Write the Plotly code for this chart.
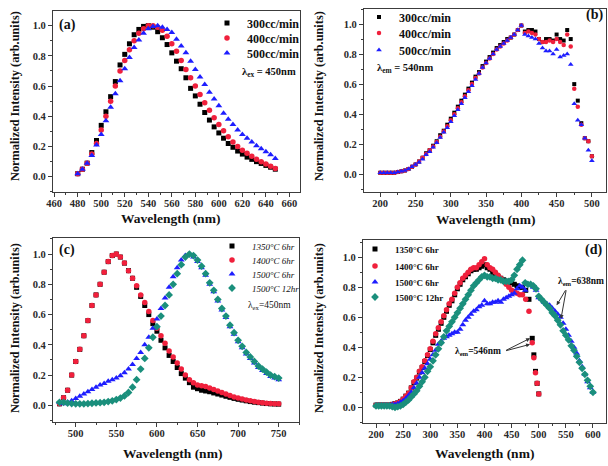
import plotly.graph_objects as go

W, H = 608, 466

# ---------------- (a) emission, flow rate ----------------
a_wl = list(range(480, 649, 4))
a_300 = [0.02, 0.05, 0.09, 0.16, 0.24,
         0.34, 0.43, 0.53, 0.63, 0.74,
         0.81, 0.88, 0.94, 0.975, 0.995,
         1.0, 0.99, 0.96, 0.92, 0.875,
         0.82, 0.765, 0.715, 0.655, 0.585,
         0.535, 0.48, 0.425, 0.375, 0.33,
         0.29, 0.255, 0.22, 0.195, 0.17,
         0.15, 0.13, 0.115, 0.1, 0.088,
         0.075, 0.063, 0.05]
a_400 = [0.02, 0.05, 0.09, 0.15, 0.22,
         0.31, 0.4, 0.5, 0.6, 0.7,
         0.77, 0.84, 0.9, 0.95, 0.98,
         1.0, 1.0, 0.99, 0.97, 0.93,
         0.88, 0.83, 0.77, 0.71, 0.655,
         0.6, 0.545, 0.49, 0.44, 0.39,
         0.345, 0.305, 0.265, 0.23, 0.2,
         0.175, 0.155, 0.135, 0.115, 0.1,
         0.085, 0.07, 0.055]
a_500 = [0.02, 0.05, 0.09, 0.14, 0.21,
         0.28, 0.37, 0.46, 0.55, 0.635,
         0.715, 0.79, 0.855, 0.905, 0.95,
         0.98, 0.995, 1.0, 0.99, 0.975,
         0.955, 0.91, 0.865, 0.82, 0.765,
         0.71, 0.66, 0.61, 0.56, 0.515,
         0.47, 0.42, 0.38, 0.345, 0.31,
         0.28, 0.255, 0.23, 0.205, 0.185,
         0.165, 0.145, 0.12]

# ---------------- (b) excitation, flow rate ----------------
b_wl = list(range(200, 501, 5))
b_300 = [0.01, 0.01, 0.01, 0.01, 0.01, 0.015, 0.02, 0.025, 0.035, 0.05,
         0.065, 0.085, 0.11, 0.14, 0.16, 0.19, 0.22, 0.26, 0.29, 0.33,
         0.37, 0.41, 0.45, 0.49, 0.53, 0.57, 0.61, 0.65, 0.68, 0.72,
         0.75, 0.78, 0.81, 0.84, 0.86, 0.88, 0.9, 0.91, 0.93, 0.96,
         0.99, 0.95, 0.96, 0.96, 0.95, 0.9, 0.88, 0.9, 0.9, 0.89,
         0.93, 0.9, 0.89, 0.96, 0.9, 0.6, 0.49, 0.34, 0.24, 0.22,
         0.12]
b_400 = [0.01, 0.01, 0.01, 0.01, 0.01, 0.015, 0.02, 0.025, 0.035, 0.05,
         0.065, 0.085, 0.11, 0.135, 0.16, 0.185, 0.215, 0.25, 0.285, 0.32,
         0.36, 0.4, 0.44, 0.48, 0.52, 0.56, 0.6, 0.64, 0.67, 0.71,
         0.74, 0.77, 0.8, 0.83, 0.85, 0.87, 0.89, 0.91, 0.93, 0.96,
         0.99, 0.94, 0.95, 0.94, 0.93, 0.9, 0.88, 0.88, 0.89, 0.88,
         0.9, 0.88, 0.86, 0.93, 0.85, 0.57, 0.45, 0.33, 0.24, 0.22,
         0.12]
b_500 = [0.01, 0.01, 0.01, 0.01, 0.01, 0.015, 0.02, 0.025, 0.035, 0.05,
         0.065, 0.08, 0.1, 0.13, 0.15, 0.18, 0.21, 0.245, 0.28, 0.31,
         0.35, 0.39, 0.43, 0.47, 0.51, 0.55, 0.59, 0.63, 0.67, 0.71,
         0.74, 0.77, 0.8, 0.83, 0.85, 0.87, 0.89, 0.91, 0.93, 0.96,
         0.99, 0.93, 0.92, 0.91, 0.9, 0.87, 0.84, 0.82, 0.82, 0.8,
         0.83, 0.78, 0.79, 0.8, 0.73, 0.47, 0.36, 0.33, 0.24, 0.16,
         0.09]

# ---------------- (c) emission, sintering ----------------
c_wl = list(range(480, 751, 5))
c_1350 = [0.01, 0.05, 0.1, 0.2, 0.29, 0.37, 0.46, 0.56, 0.66, 0.73,
          0.8, 0.88, 0.95, 0.99, 1.0, 0.98, 0.94, 0.89, 0.84, 0.78,
          0.72, 0.66, 0.6, 0.54, 0.49, 0.43, 0.38, 0.33, 0.29, 0.25,
          0.21, 0.18, 0.15, 0.12, 0.11, 0.1, 0.095, 0.09, 0.082, 0.075,
          0.068, 0.06, 0.053, 0.046, 0.04, 0.035, 0.03, 0.025, 0.021, 0.018,
          0.015, 0.012, 0.01, 0.009, 0.008]
c_1400 = [0.01, 0.05, 0.1, 0.2, 0.29, 0.37, 0.46, 0.56, 0.66, 0.73,
          0.8, 0.88, 0.95, 0.99, 1.0, 0.98, 0.94, 0.89, 0.84, 0.79,
          0.73, 0.68, 0.62, 0.56, 0.51, 0.46, 0.41, 0.36, 0.32, 0.28,
          0.24, 0.2, 0.17, 0.15, 0.135, 0.13, 0.125, 0.115, 0.105, 0.095,
          0.085, 0.075, 0.065, 0.055, 0.048, 0.042, 0.036, 0.03, 0.025, 0.02,
          0.017, 0.014, 0.012, 0.01, 0.01]
c_1500_6 = [0.02, 0.01, 0.02, 0.03, 0.045, 0.06, 0.075, 0.09, 0.105, 0.12,
            0.135, 0.145, 0.16, 0.17, 0.18, 0.195, 0.215, 0.24, 0.27, 0.31,
            0.35, 0.4, 0.45, 0.51, 0.57, 0.64, 0.71, 0.78, 0.85, 0.91,
            0.96, 0.99, 1.0, 0.98, 0.95, 0.91, 0.86, 0.8, 0.75, 0.69,
            0.63, 0.58, 0.52, 0.47, 0.42, 0.38, 0.34, 0.31, 0.28, 0.25,
            0.23, 0.21, 0.19, 0.18, 0.17]
c_1500_12 = [0.02, 0.02, 0.015, 0.012, 0.01, 0.01, 0.01, 0.012, 0.014, 0.016,
             0.018, 0.02, 0.025, 0.03, 0.038, 0.048, 0.062, 0.085, 0.12, 0.17,
             0.24, 0.31, 0.38, 0.45, 0.52, 0.59, 0.66, 0.73, 0.8, 0.87,
             0.93, 0.98, 1.0, 0.99, 0.96, 0.92, 0.87, 0.81, 0.76, 0.7,
             0.64, 0.59, 0.53, 0.48, 0.43, 0.39, 0.35, 0.32, 0.29, 0.26,
             0.24, 0.22, 0.2, 0.19, 0.18]

# ---------------- (d) excitation, sintering ----------------
d_wl_exc = list(range(200, 471, 5)) + [476, 482, 488, 491, 494, 497, 500]
d_1350 = [0.015, 0.015, 0.015, 0.015, 0.015, 0.015, 0.02, 0.025, 0.03, 0.04,
          0.055, 0.075, 0.095, 0.13, 0.165, 0.195, 0.235, 0.265, 0.305, 0.345,
          0.385, 0.43, 0.48, 0.52, 0.56, 0.6, 0.64, 0.68, 0.71, 0.75,
          0.79, 0.82, 0.85, 0.87, 0.89, 0.91, 0.92, 0.92, 0.93, 0.94,
          0.95, 0.93, 0.92, 0.9, 0.88, 0.87, 0.86, 0.85, 0.84, 0.84,
          0.83, 0.82, 0.81, 0.8, 0.8,
          0.78, 0.72, 0.46, 0.35, 0.24, 0.16, 0.09]
d_1400 = [0.015, 0.015, 0.015, 0.015, 0.015, 0.015, 0.02, 0.025, 0.03, 0.04,
          0.055, 0.075, 0.095, 0.13, 0.17, 0.2, 0.24, 0.27, 0.31, 0.35,
          0.39, 0.44, 0.49, 0.53, 0.57, 0.61, 0.65, 0.69, 0.72, 0.76,
          0.8, 0.83, 0.86, 0.88, 0.9, 0.92, 0.93, 0.93, 0.95, 0.97,
          0.99, 0.95, 0.93, 0.92, 0.9, 0.88, 0.86, 0.84, 0.82, 0.8,
          0.78, 0.77, 0.76, 0.75, 0.75,
          0.72, 0.64, 0.43, 0.33, 0.23, 0.16, 0.09]
d_wl_full = list(range(200, 601, 5))
d_1500_6 = [0.015, 0.015, 0.015, 0.015, 0.015, 0.015, 0.02, 0.02, 0.025, 0.035,
            0.045, 0.06, 0.08, 0.1, 0.13, 0.16, 0.2, 0.23, 0.26, 0.29,
            0.32, 0.35, 0.38, 0.42, 0.44, 0.46, 0.47, 0.48, 0.49, 0.5,
            0.5, 0.52, 0.55, 0.58, 0.6, 0.62, 0.64, 0.65, 0.67, 0.68,
            0.71, 0.69, 0.69, 0.7, 0.7, 0.71, 0.7, 0.72, 0.73, 0.74,
            0.75, 0.76, 0.79, 0.81, 0.8, 0.78, 0.82, 0.82, 0.8, 0.78,
            0.73, 0.72, 0.7, 0.69, 0.68, 0.66, 0.64, 0.62, 0.6, 0.56,
            0.52, 0.48, 0.44, 0.4, 0.36, 0.31, 0.27, 0.22, 0.17, 0.13,
            0.1]
d_1500_12 = [0.01, 0.01, 0.01, 0.01, 0.01, 0.01, 0.005, 0.0, 0.005, 0.01,
             0.02, 0.035, 0.05, 0.07, 0.09, 0.11, 0.14, 0.17, 0.2, 0.24,
             0.27, 0.31, 0.35, 0.39, 0.43, 0.47, 0.51, 0.54, 0.57, 0.6,
             0.63, 0.66, 0.69, 0.72, 0.75, 0.78, 0.81, 0.83, 0.85, 0.87,
             0.88, 0.87, 0.87, 0.86, 0.86, 0.85, 0.85, 0.84, 0.84, 0.84,
             0.85, 0.88, 0.92, 0.95, 0.98, 0.83, 0.82, 0.82, 0.81, 0.79,
             0.74, 0.72, 0.7, 0.68, 0.66, 0.63, 0.61, 0.58, 0.55, 0.51,
             0.48, 0.45, 0.41, 0.38, 0.34, 0.3, 0.26, 0.22, 0.18, 0.14,
             0.1]

flow_names = ["300cc/min", "400cc/min", "500cc/min"]
temp_names = ["1350°C 6hr", "1400°C 6hr", "1500°C 6hr", "1500°C 12hr"]

BLACK, RED, BLUE, TEAL = "#000000", "#f0203c", "#1e1eff", "#1a8f7c"
SERIF = "Liberation Serif"

fig = go.Figure()
legends = {}
_n = [0]


def add(x, y, name, color, symbol, size, xa, ya, lx, ly, fsize, weight="bold", style="normal"):
    _n[0] += 1
    key = "legend" if _n[0] == 1 else "legend%d" % _n[0]
    fig.add_trace(go.Scatter(
        x=x, y=y, name=name, mode="markers", showlegend=True,
        marker=dict(color=color, symbol=symbol, size=size, line=dict(width=0)),
        xaxis=xa, yaxis=ya, legend=key))
    legends[key] = dict(x=(lx - 20) / W, y=1 - ly / H, xanchor="left", yanchor="middle",
                        bgcolor="rgba(0,0,0,0)", borderwidth=0, itemsizing="trace",
                        visible=True,
                        font=dict(family=SERIF, size=fsize, color="#111",
                                  weight=weight, style=style))


add(a_wl, a_300, flow_names[0], BLACK, "square", 5, "x", "y", 227, 23, 12)
add(a_wl, a_400, flow_names[1], RED, "circle", 5.5, "x", "y", 227, 38, 12)
add(a_wl, a_500, flow_names[2], BLUE, "triangle-up", 6, "x", "y", 227, 53, 12)

add(b_wl, b_300, flow_names[0], BLACK, "square", 4, "x2", "y2", 379, 17, 12)
add(b_wl, b_400, flow_names[1], RED, "circle", 4.5, "x2", "y2", 379, 33, 12)
add(b_wl, b_500, flow_names[2], BLUE, "triangle-up", 5, "x2", "y2", 379, 50, 12)

add(c_wl, c_1350, temp_names[0], BLACK, "square", 5, "x3", "y3", 232, 246, 9, "normal", "italic")
add(c_wl, c_1400, temp_names[1], RED, "circle", 5.5, "x3", "y3", 232, 260, 9, "normal", "italic")
add(c_wl, c_1500_6, temp_names[2], BLUE, "triangle-up", 6, "x3", "y3", 232, 274, 9, "normal", "italic")
add(c_wl, c_1500_12, temp_names[3], TEAL, "diamond", 6, "x3", "y3", 232, 288, 9, "normal", "italic")

add(d_wl_exc, d_1350, temp_names[0], BLACK, "square", 5, "x4", "y4", 375, 249, 9)
add(d_wl_exc, d_1400, temp_names[1], RED, "circle", 5.5, "x4", "y4", 375, 266, 9)
add(d_wl_full, d_1500_6, temp_names[2], BLUE, "triangle-up", 6, "x4", "y4", 375, 282, 9)
add(d_wl_full, d_1500_12, temp_names[3], TEAL, "diamond", 6, "x4", "y4", 375, 297, 9)

AX = "#3c3c3c"
tickfont = dict(family=SERIF, size=10.5, color="#2a2a2a", weight="bold")


def xax(dom, rng, dtick, mdtick, anchor, tick0=0):
    return dict(domain=dom, range=rng, anchor=anchor, showline=True, linecolor=AX,
                linewidth=1.3, mirror=True, ticks="outside", ticklen=4, tickwidth=1.2,
                tickcolor=AX, showgrid=False, zeroline=False, tickfont=tickfont,
                tick0=tick0, dtick=dtick, automargin=False, ticklabelstandoff=-3,
                minor=dict(ticks="outside", ticklen=2, tickcolor=AX, dtick=mdtick, tick0=tick0))


def yax(dom, rng, anchor):
    return dict(domain=dom, range=rng, anchor=anchor, showline=True, linecolor=AX,
                linewidth=1.3, mirror=True, ticks="outside", ticklen=4, tickwidth=1.2,
                tickcolor=AX, showgrid=False, zeroline=False, tickfont=tickfont,
                tick0=0, dtick=0.2, tickformat=".1f", automargin=False,
                minor=dict(ticks="outside", ticklen=2, tickcolor=AX, dtick=0.1, tick0=0))


def px(a, b):
    return [a / W, b / W]


def py(top, bottom):
    return [1 - bottom / H, 1 - top / H]


fig.update_layout(
    width=W, height=H, margin=dict(l=0, r=0, t=0, b=0),
    paper_bgcolor="white", plot_bgcolor="white", showlegend=True,
    xaxis=xax(px(53, 300), [459, 669], 20, 10, "y"),
    yaxis=yax(py(11, 192), [-0.101, 1.097], "x"),
    xaxis2=xax(px(364, 606), [177, 520], 50, 25, "y2"),
    yaxis2=yax(py(9, 192), [-0.118, 1.1], "x2"),
    xaxis3=xax(px(53, 299), [472, 775], 50, 25, "y3"),
    yaxis3=yax(py(238, 422), [-0.11, 1.106], "x3"),
    xaxis4=xax(px(363, 606), [176, 624], 50, 25, "y4"),
    yaxis4=yax(py(240, 423), [-0.104, 1.115], "x4"),
)
fig.update_layout(**legends)

ann = []


def text(x, y, s, size, xanchor="center", angle=0, weight="bold"):
    ann.append(dict(x=x / W, y=1 - y / H, xref="paper", yref="paper", text=s,
                    showarrow=False, xanchor=xanchor, yanchor="middle", textangle=angle,
                    font=dict(family=SERIF, size=size, color="#111", weight=weight)))


# axis titles
for cx, cy in [(170, 218), (485, 219), (172, 453), (484, 453)]:
    text(cx, cy, "Wavelength (nm)", 13.5)
for cx, cy in [(15, 96), (319, 96), (15, 328), (319, 328)]:
    text(cx, cy, "Normalized Intensity (arb.units)", 12.3, angle=-90)

# panel labels
text(57, 25, "(a)", 14, "left")
text(605, 15, "(b)", 14, "right")
text(57, 250, "(c)", 14, "left")
text(604, 250, "(d)", 14, "right")

# excitation / emission notes
text(240, 72, "λ<sub>ex</sub> = 450nm", 10.5, "left")
text(375, 68, "λ<sub>em</sub> = 540nm", 10.5, "left")
text(246, 305, "λ<sub>ex</sub>=450nm", 9.5, "left", weight="normal")
text(556, 281, "λ<sub>em</sub>=638nm", 9.5, "left")
text(453, 351, "λ<sub>em</sub>=546nm", 9.5, "left")

# arrows in (d)
for hx, hy, tx, ty in [(484, 0.46, 437, 0.375), (484, 0.42, 437, 0.375),
                       (533, 0.68, 551, 0.79), (541, 0.59, 551, 0.79)]:
    ann.append(dict(x=hx, y=hy, xref="x4", yref="y4", ax=tx, ay=ty,
                    axref="x4", ayref="y4", text="", showarrow=True,
                    arrowhead=2, arrowsize=0.8, arrowwidth=1, arrowcolor="#333"))

fig.update_layout(annotations=ann)

fig.write_html("out.html", config={"displayModeBar": False},
               post_script="document.body.style.margin='0';document.body.style.overflow='hidden';")
